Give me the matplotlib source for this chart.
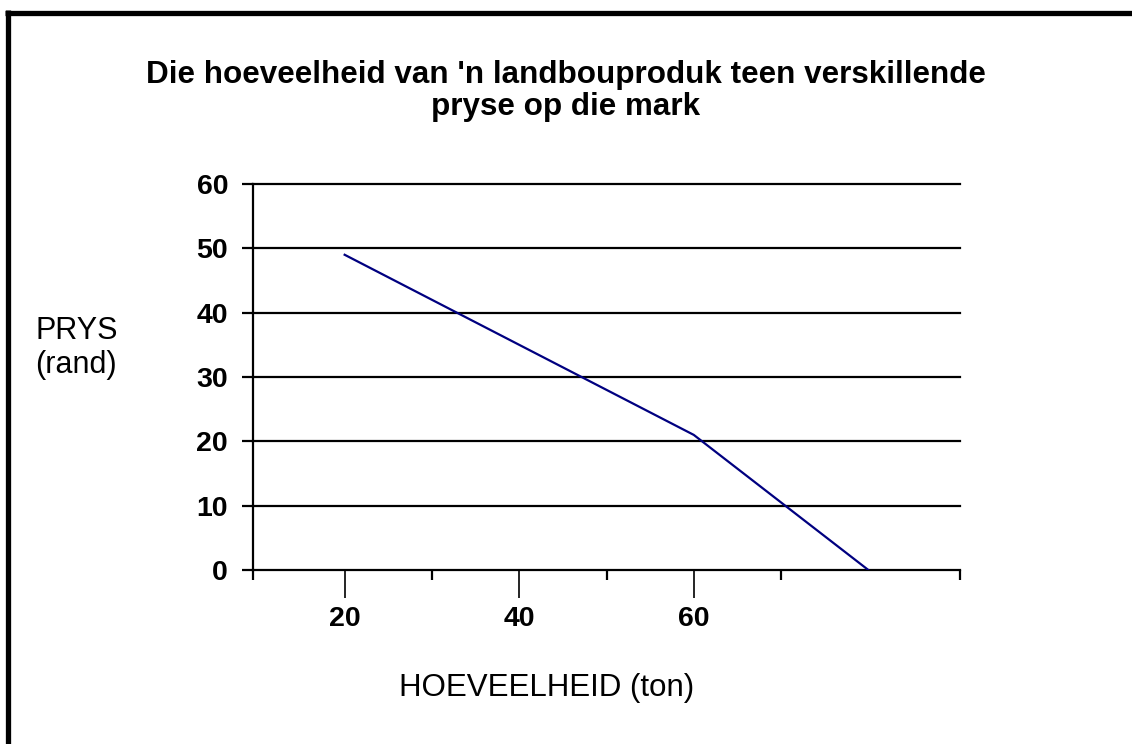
import matplotlib
matplotlib.use("Agg")
import matplotlib.pyplot as plt
from matplotlib.lines import Line2D

# Data
quantity = [20, 40, 60, 80]          # HOEVEELHEID (ton)
price = [49, 35, 21, 0]              # PRYS (rand)
y_ticks = [0, 10, 20, 30, 40, 50, 60]
x_major = [20, 40, 60]
x_major_labels = ["20", "40", "60"]
x_minor = [30, 50, 70]

title = "Die hoeveelheid van 'n landbouproduk teen verskillende\npryse op die mark"
ylabel = "PRYS\n(rand)"
xlabel = "HOEVEELHEID (ton)"

plt.rcParams['font.family'] = ['Liberation Sans', 'DejaVu Sans']

W, H = 1132, 744
fig = plt.figure(figsize=(W / 100, H / 100), dpi=100)
fig.patch.set_facecolor("white")

left, right, top, bottom = 253, 960, 184, 570
ax = fig.add_axes([left / W, 1 - bottom / H, (right - left) / W, (bottom - top) / H])

ax.set_xlim(9.5, 90.5)
ax.set_ylim(0, 60)

for v in y_ticks[1:]:
    ax.axhline(v, color="black", lw=1.6, clip_on=False, zorder=1)

ax.plot(quantity, price, color="#000080", lw=1.6, solid_joinstyle="miter", zorder=3)

for s in ["top", "right"]:
    ax.spines[s].set_visible(False)
for s in ["left", "bottom"]:
    ax.spines[s].set_linewidth(1.6)
    ax.spines[s].set_color("black")

ax.set_yticks(y_ticks)
ax.set_yticklabels([str(v) for v in y_ticks], fontsize=20.5, fontweight="bold")
ax.tick_params(axis="y", length=8, width=1.6, pad=10, color="black")

ax.set_xticks(x_major)
ax.set_xticklabels(x_major_labels, fontsize=20.5, fontweight="bold")
ax.set_xticks(x_minor + [9.5, 90.5], minor=True)
ax.tick_params(axis="x", which="major", length=20, width=1.2, pad=6)
ax.tick_params(axis="x", which="minor", length=7, width=1.6)

fig.text(566 / W, 1 - 91 / H, title, ha="center", va="center", fontsize=22.6,
         fontweight="bold", linespacing=1.08)
fig.text(35 / W, 1 - 348 / H, ylabel, ha="left", va="center", fontsize=22,
         linespacing=1.15)
fig.text(547 / W, 1 - 688 / H, xlabel, ha="center", va="center", fontsize=22.5)

# Frame lines (left and top)
fig.add_artist(Line2D([7.5 / W, 7.5 / W], [0, 1 - 10 / H], transform=fig.transFigure,
                      color="black", lw=3.8, solid_capstyle="butt"))
fig.add_artist(Line2D([5 / W, 1], [1 - 12.5 / H, 1 - 12.5 / H], transform=fig.transFigure,
                      color="black", lw=3.8, solid_capstyle="butt"))

fig.savefig("out.png", dpi=100, facecolor="white")
